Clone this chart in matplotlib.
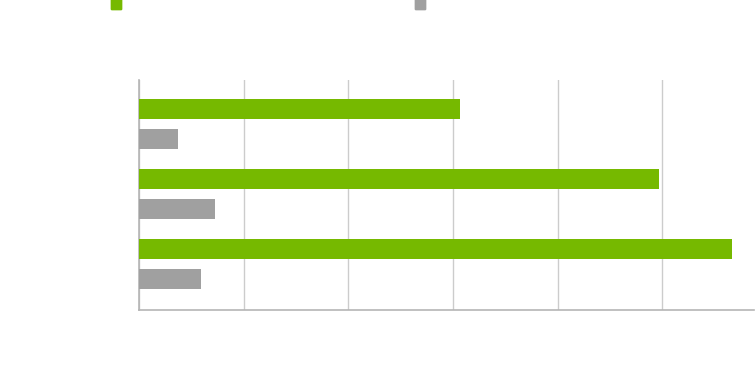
import matplotlib
matplotlib.use('Agg')
import matplotlib.pyplot as plt
from matplotlib.lines import Line2D
import numpy as np

# Data (no labels are visible in the reference; values read in grid units of 20)
cats = ['A', 'B', 'C']
green_vals = [61.3, 99.3, 113.3]
gray_vals = [7.4, 14.5, 11.8]

GREEN = '#76b900'
GRAY = '#a0a0a0'
GRID = '#cccccc'

fig = plt.figure(figsize=(7.55, 3.77), dpi=100)
ax = fig.add_axes([0.1841, 0.1777, 0.8146, 0.6101])

y = np.arange(len(cats))
h = 0.286
ax.barh(y - 0.214, green_vals, height=h, color=GREEN, zorder=3)
ax.barh(y + 0.207, gray_vals, height=h, color=GRAY, zorder=3)

ax.set_xlim(0, 117.5)
ax.set_ylim(2.657, -0.636)
ax.set_xticks(np.arange(0, 101, 20))
ax.set_yticks([])
ax.tick_params(axis='x', length=0, labelbottom=False)
ax.grid(axis='x', color=GRID, linewidth=1, zorder=0)

for s in ['top', 'right']:
    ax.spines[s].set_visible(False)
for s in ['left', 'bottom']:
    ax.spines[s].set_color('#b5b5b5')
    ax.spines[s].set_linewidth(1.2)

for col, xpos in [(GREEN, 116 / 755), (GRAY, 420 / 755)]:
    hnd = Line2D([], [], marker='s', linestyle='none', markersize=7.2,
                 markerfacecolor=col, markeredgecolor=col)
    lg = fig.legend([hnd], [''], loc='center', bbox_to_anchor=(xpos, 1 - 5 / 377),
                    frameon=False, borderpad=0, handletextpad=0, handlelength=1)
    fig.add_artist(lg)

fig.savefig('out.png', dpi=100)
